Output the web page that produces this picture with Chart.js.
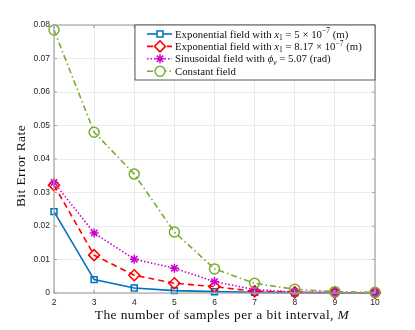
<!DOCTYPE html>
<html>
<head>
<meta charset="utf-8">
<script src="https://cdn.jsdelivr.net/npm/chart.js@4"></script>
<style>
  html, body { margin: 0; padding: 0; background: #fff; }
  #wrap { position: relative; width: 415px; height: 330px; }
</style>
</head>
<body>
<div id="wrap"><canvas id="ber" width="415" height="330"></canvas></div>
<script>
// samples per bit interval, M
const samples = [2, 3, 4, 5, 6, 7, 8, 9, 10];

// bit error rate for each field model
const expField5 = [0.0243, 0.0040, 0.0015, 0.0007, 0.0004, 0.0002, 0.0001, 0.00005, 0.0];
const expField817 = [0.0322, 0.0113, 0.0053, 0.0029, 0.0019, 0.0005, 0.0002, 0.0001, 0.0];
const sineField = [0.0330, 0.0179, 0.0101, 0.0074, 0.0034, 0.0010, 0.0003, 0.0001, 0.0];
const constField = [0.0785, 0.0480, 0.0355, 0.0182, 0.0072, 0.0029, 0.0011, 0.0004, 0.0002];

const yTicks = [0, 0.01, 0.02, 0.03, 0.04, 0.05, 0.06, 0.07, 0.08];

// legend labels, as runs of plain / italic / sub / sup text
const legendLabels = [
  [['Exponential field with ', 'n'], ['x', 'i'], ['1', 'sub'], [' = 5 \u00d7 10', 'n'], ['\u22127', 'sup'], [' (m)', 'n']],
  [['Exponential field with ', 'n'], ['x', 'i'], ['1', 'sub'], [' = 8.17 \u00d7 10', 'n'], ['\u22127', 'sup'], [' (m)', 'n']],
  [['Sinusoidal field with ', 'n'], ['\u03d5', 'i'], ['v', 'subi'], [' = 5.07 (rad)', 'n']],
  [['Constant field', 'n']]
];

const SERIF = '"Liberation Serif", "Times New Roman", serif';

function toPoints(ys){
  return samples.map((x, i) => ({x: x, y: ys[i]}));
}

function series(label, ys, color, dash, style, radius, order){
  return {
    label: label,
    data: toPoints(ys),
    borderColor: color,
    backgroundColor: 'rgba(0,0,0,0)',
    borderWidth: 1.6,
    borderDash: dash,
    pointStyle: style,
    pointRadius: radius,
    pointBorderWidth: 1.5,
    pointBorderColor: color,
    pointBackgroundColor: 'rgba(0,0,0,0)',
    tension: 0,
    clip: false,
    order: order
  };
}

const datasets = [
  series('exp5', expField5, '#0072BD', [], 'rect', 4.2, 3),
  series('exp817', expField817, '#FF0000', [6, 4], 'rectRot', 5.5, 2),
  series('sine', sineField, '#CC00CC', [1.5, 2], 'star', 4.5, 1),
  series('const', constField, '#77AC30', [6, 3, 1.5, 3], 'circle', 5, 0)
];

// draws a line of mixed-style text starting at x, baseline y; returns end x
function drawRuns(ctx, runs, x, y, size, draw){
  for (const [t, s] of runs){
    let fs = size, dy = 0, it = false;
    if (s === 'i') it = true;
    if (s === 'sub') { fs = size * 0.7; dy = size * 0.22; }
    if (s === 'subi') { fs = size * 0.7; dy = size * 0.22; it = true; }
    if (s === 'sup') { fs = size * 0.7; dy = -size * 0.38; }
    ctx.font = (it ? 'italic ' : '') + fs + 'px ' + SERIF;
    if (draw !== false) ctx.fillText(t, x, y + dy);
    x += ctx.measureText(t).width;
  }
  return x;
}

const framePlugin = {
  id: 'frame',
  afterDraw(chart){
    const ctx = chart.ctx;
    const a = chart.chartArea;
    const xs = chart.scales.x, ys = chart.scales.y;
    ctx.save();

    // box round the axes with small inward ticks
    ctx.strokeStyle = '#a6a6a6';
    ctx.lineWidth = 1.2;
    ctx.strokeRect(a.left, a.top, a.right - a.left, a.bottom - a.top);
    ctx.beginPath();
    for (const v of samples){
      const px = xs.getPixelForValue(v);
      ctx.moveTo(px, a.bottom); ctx.lineTo(px, a.bottom - 3);
      ctx.moveTo(px, a.top); ctx.lineTo(px, a.top + 3);
    }
    for (const v of yTicks){
      const py = ys.getPixelForValue(v);
      ctx.moveTo(a.left, py); ctx.lineTo(a.left + 3, py);
      ctx.moveTo(a.right, py); ctx.lineTo(a.right - 3, py);
    }
    ctx.stroke();

    // axis titles
    ctx.fillStyle = '#111';
    ctx.textBaseline = 'alphabetic';
    ctx.letterSpacing = '0.4px';
    const xt = [['The number of samples per a bit interval, ', 'n'], ['M', 'i']];
    const w = drawRuns(ctx, xt, 0, 0, 13.5, false);
    drawRuns(ctx, xt, 222 - w / 2, 319, 13.5);

    ctx.save();
    ctx.translate(25, 166);
    ctx.rotate(-Math.PI / 2);
    ctx.font = '13.5px ' + SERIF;
    ctx.textAlign = 'center';
    ctx.fillText('Bit Error Rate', 0, 0);
    ctx.restore();
    ctx.letterSpacing = '0px';

    // legend box
    const lx = 135, ly = a.top, lw = a.right - lx, lh = 55;
    ctx.fillStyle = '#fff';
    ctx.fillRect(lx, ly, lw, lh);
    ctx.strokeStyle = '#333';
    ctx.lineWidth = 0.8;
    ctx.strokeRect(lx, ly, lw, lh);

    datasets.forEach((ds, i) => {
      const cy = ly + 9 + i * 12.4;
      ctx.strokeStyle = ds.borderColor;
      ctx.lineWidth = ds.borderWidth;
      ctx.setLineDash(ds.borderDash);
      ctx.beginPath();
      ctx.moveTo(147, cy); ctx.lineTo(172, cy);
      ctx.stroke();
      ctx.setLineDash([]);
      ctx.fillStyle = '#fff';
      ctx.lineWidth = ds.pointBorderWidth;
      Chart.helpers.drawPoint(ctx, {
        pointStyle: ds.pointStyle,
        radius: ds.pointRadius,
        borderWidth: ds.pointBorderWidth,
        rotation: 0
      }, 160, cy);
      ctx.fillStyle = '#111';
      drawRuns(ctx, legendLabels[i], 175, cy + 3.6, 10.8);
    });

    ctx.restore();
  }
};

new Chart(document.getElementById('ber'), {
  type: 'line',
  data: { datasets: datasets },
  options: {
    responsive: false,
    animation: false,
    devicePixelRatio: 1,
    layout: { padding: { top: 25, right: 40, left: 0, bottom: 0 } },
    plugins: { legend: { display: false }, tooltip: { enabled: false } },
    scales: {
      x: {
        type: 'linear',
        min: 2, max: 10,
        afterFit: (s) => { s.height = 37; },
        afterBuildTicks: (s) => { s.ticks = samples.map(v => ({value: v})); },
        grid: { color: '#ebebeb', lineWidth: 1, drawTicks: false },
        border: { display: false },
        ticks: {
          autoSkip: false,
          padding: 5,
          color: '#262626',
          font: { family: '"Liberation Sans", Arial, sans-serif', size: 8.5 },
          maxRotation: 0
        }
      },
      y: {
        min: 0, max: 0.08,
        afterFit: (s) => { s.width = 54; },
        afterBuildTicks: (s) => { s.ticks = yTicks.map(v => ({value: v})); },
        grid: { color: '#ebebeb', lineWidth: 1, drawTicks: false },
        border: { display: false },
        ticks: {
          autoSkip: false,
          padding: 4,
          color: '#262626',
          font: { family: '"Liberation Sans", Arial, sans-serif', size: 8.5 },
          callback: (v) => String(Math.round(v * 100) / 100)
        }
      }
    }
  },
  plugins: [framePlugin]
});
</script>
</body>
</html>
